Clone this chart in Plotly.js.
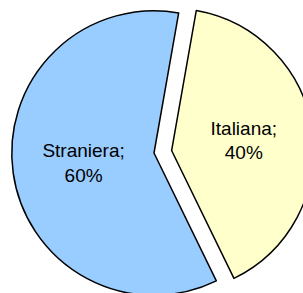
<!DOCTYPE html>
<html>
<head>
<meta charset="utf-8">
<script src="https://cdn.plot.ly/plotly-3.0.1.min.js"></script>
<style>
html, body { margin: 0; padding: 0; width: 303px; height: 293px; overflow: hidden; background: #fff; }
#chart { position: absolute; left: -6px; top: -7px; width: 320px; height: 320px; }
</style>
</head>
<body>
<div id="chart"></div>
<script>
var labels = ["Italiana", "Straniera"];
var values = [40, 60];
var colors = ["#FFFFCC", "#99CCFF"];
var pulls = [0.125, 0];

Plotly.newPlot("chart", [{
  type: "pie",
  labels: labels,
  values: values,
  sort: false,
  direction: "clockwise",
  rotation: 10,
  pull: pulls,
  marker: { colors: colors, line: { color: "#000000", width: 1.5 } },
  texttemplate: "%{label};<br>%{percent:.0%}",
  textposition: "inside",
  insidetextorientation: "horizontal",
  textfont: { family: "Liberation Sans, Arial, sans-serif", size: 19, color: "#000000" },
  hoverinfo: "none"
}], {
  width: 320,
  height: 320,
  margin: { l: 0, r: 0, t: 0, b: 0 },
  showlegend: false,
  paper_bgcolor: "rgba(0,0,0,0)",
  plot_bgcolor: "rgba(0,0,0,0)"
}, { displayModeBar: false, staticPlot: true });
</script>
</body>
</html>
